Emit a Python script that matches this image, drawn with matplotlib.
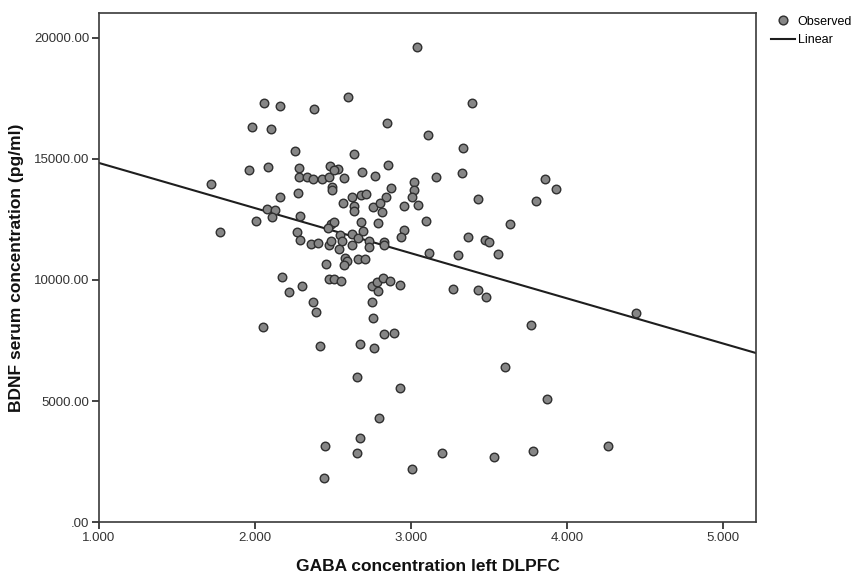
import numpy as np
import matplotlib
matplotlib.use("Agg")
import matplotlib.pyplot as plt
from matplotlib.ticker import FuncFormatter
from matplotlib.lines import Line2D

# GABA concentration (left DLPFC) vs BDNF serum concentration
gaba = [
    2.056, 2.158, 2.380, 2.596, 1.983, 2.104, 2.256, 2.637, 1.963, 2.085,
    2.282, 2.481, 2.534, 2.282, 2.335, 2.374, 2.428, 2.474, 2.572, 1.716,
    2.158, 2.274, 2.494, 2.494, 2.506, 3.037, 3.391, 2.848, 3.109, 3.335,
    2.686, 2.767, 2.851, 3.021, 3.021, 3.158, 3.327, 3.863, 3.928, 2.870,
    2.622, 2.678, 2.710, 2.838, 3.004, 3.431, 3.801, 2.566, 2.637, 2.637,
    2.075, 2.126, 2.111, 2.004, 2.288, 1.776, 2.267, 2.288, 2.357, 2.404,
    2.489, 2.506, 2.470, 2.476, 2.489, 2.545, 2.558, 2.538, 2.624, 2.624,
    2.662, 2.662, 2.575, 2.592, 2.572, 2.453, 2.171, 2.218, 2.299, 2.472,
    2.508, 2.553, 2.374, 2.393, 2.053, 2.419, 2.673, 2.652, 2.758, 2.801,
    2.812, 2.957, 3.043, 3.096, 3.635, 2.679, 2.787, 2.694, 2.733, 2.733,
    2.829, 2.829, 2.957, 2.936, 3.367, 3.474, 3.502, 3.117, 3.303, 3.560,
    2.705, 2.752, 2.780, 2.822, 2.787, 2.865, 2.929, 3.267, 3.428, 3.479,
    2.752, 2.754, 2.829, 2.891, 3.769, 2.765, 3.603, 2.449, 2.673, 2.652,
    2.442, 2.929, 3.870, 2.795, 3.004, 3.201, 3.534, 3.780, 4.263, 4.442,
]
bdnf = [
    17326, 17190, 17066, 17549, 16322, 16252, 15343, 15194, 14545, 14657,
    14640, 14723, 14587, 14244, 14269, 14161, 14173, 14269, 14202, 13967,
    13417, 13607, 13855, 13719, 14545, 19616, 17301, 16475, 16004, 15454,
    14450, 14297, 14740, 14062, 13707, 14256, 14409, 14161, 13760, 13789,
    13442, 13512, 13541, 13442, 13417, 13347, 13264, 13169, 13058, 12851,
    12921, 12880, 12603, 12450, 12657, 11971, 11983, 11653, 11475, 11516,
    12302, 12376, 12136, 11446, 11611, 11859, 11611, 11281, 11446, 11888,
    11723, 10868, 10909, 10785, 10620, 10649, 10111, 9517, 9764, 10029,
    10054, 9959, 9078, 8665, 8045, 7260, 7355, 5979, 13004, 13194,
    12797, 13058, 13087, 12450, 12314, 12409, 12355, 12037, 11624, 11376,
    11583, 11446, 12066, 11789, 11789, 11653, 11558, 11116, 11033, 11074,
    10855, 9752, 9930, 10095, 9558, 9959, 9793, 9628, 9587, 9285,
    9078, 8442, 7756, 7810, 8140, 7202, 6417, 3140, 3459, 2864,
    1806, 5525, 5083, 4285, 2190, 2864, 2698, 2946, 3153, 8624,
]

# linear fit line as shown in the figure
fit_intercept = 16699
fit_slope = -1864

x_ticks = [1.0, 2.0, 3.0, 4.0, 5.0]
y_ticks = [0, 5000, 10000, 15000, 20000]

plt.rcParams["font.family"] = ["Liberation Sans", "DejaVu Sans"]

fig = plt.figure(figsize=(8.6, 5.79), dpi=100)
ax = fig.add_axes([0.1151, 0.0984, 0.7640, 0.8791])

xlim = (1.0, 5.213)
ylim = (0, 21030)

ax.scatter(gaba, bdnf, s=38, facecolor="#868686", edgecolor="#2f2f2f",
           linewidths=1.0, zorder=3)

xs = np.array(xlim)
ax.plot(xs, fit_intercept + fit_slope * xs, color="#1e1e1e", lw=1.5, zorder=2)

ax.set_xlim(*xlim)
ax.set_ylim(*ylim)
ax.set_xticks(x_ticks)
ax.set_yticks(y_ticks)
ax.xaxis.set_major_formatter(FuncFormatter(lambda v, p: f"{v:.3f}"))
ax.yaxis.set_major_formatter(
    FuncFormatter(lambda v, p: ".00" if v == 0 else f"{v:.2f}"))

for s in ax.spines.values():
    s.set_color("#3a3a3a")
    s.set_linewidth(1.2)
ax.tick_params(axis="both", direction="out", length=5, width=1.2,
               color="#222222", labelsize=9.5, labelcolor="#333333", pad=2)
ax.tick_params(top=False, right=False)

ax.set_xlabel("GABA concentration left DLPFC", fontsize=12.5,
              fontweight="bold", color="#111111", labelpad=11)
ax.set_ylabel("BDNF serum concentration (pg/ml)", fontsize=12.5,
              fontweight="bold", color="#111111", labelpad=7)

handles = [
    Line2D([], [], marker="o", ls="none", markersize=6.3,
           markerfacecolor="#868686", markeredgecolor="#2f2f2f",
           markeredgewidth=1.0),
    Line2D([], [], color="#1e1e1e", lw=1.5),
]
fig.legend(handles, ["Observed", "Linear"], loc="upper left",
           bbox_to_anchor=(0.897, 0.973), frameon=False, fontsize=9,
           handlelength=1.9, handletextpad=0.2, labelspacing=0.5,
           borderaxespad=0, borderpad=0)

fig.savefig("out.png", dpi=100)
